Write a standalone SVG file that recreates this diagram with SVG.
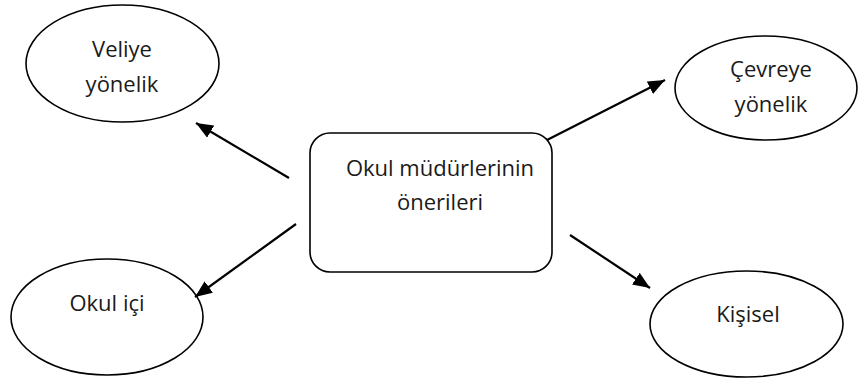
<svg xmlns="http://www.w3.org/2000/svg" width="860" height="387" viewBox="0 0 860 387">
<defs>
<style>
.node{fill:#fff;stroke:#000;stroke-width:1.6}
.t{font-family:"Open Sans","Noto Sans","Liberation Sans",sans-serif;font-size:22px;fill:#1a1a1a;text-anchor:middle}
.c{stroke:#000;stroke-width:2.2;fill:none;marker-end:url(#ah)}
</style>
<marker id="ah" markerUnits="userSpaceOnUse" markerWidth="18" markerHeight="14" refX="17" refY="7" orient="auto">
<path d="M0,0 L17,7 L0,14 z" fill="#000"/>
</marker>
</defs>
<rect width="860" height="387" fill="#fff"/>
<g id="center">
<rect class="node" x="310" y="133" width="242" height="139" rx="20"/>
<text class="t" x="440" y="176">Okul müdürlerinin</text>
<text class="t" x="440" y="210">önerileri</text>
</g>
<g id="veliye">
<ellipse class="node" cx="122.5" cy="63.5" rx="96.5" ry="58.5"/>
<text class="t" x="122" y="57">Veliye</text>
<text class="t" x="122" y="92">yönelik</text>
</g>
<g id="cevreye">
<ellipse class="node" cx="766" cy="88" rx="91" ry="52"/>
<text class="t" x="771" y="77">Çevreye</text>
<text class="t" x="771" y="112">yönelik</text>
</g>
<g id="okulici">
<ellipse class="node" cx="107" cy="317" rx="96" ry="58"/>
<text class="t" x="107" y="311">Okul içi</text>
</g>
<g id="kisisel">
<ellipse class="node" cx="746.5" cy="324" rx="96.5" ry="53"/>
<text class="t" x="748" y="322">Kişisel</text>
</g>
<g id="connectors">
<line class="c" x1="289" y1="178" x2="196" y2="123"/>
<line class="c" x1="547" y1="140" x2="665" y2="80"/>
<line class="c" x1="296" y1="224" x2="195" y2="297"/>
<line class="c" x1="570" y1="235" x2="650" y2="288"/>
</g>
</svg>
